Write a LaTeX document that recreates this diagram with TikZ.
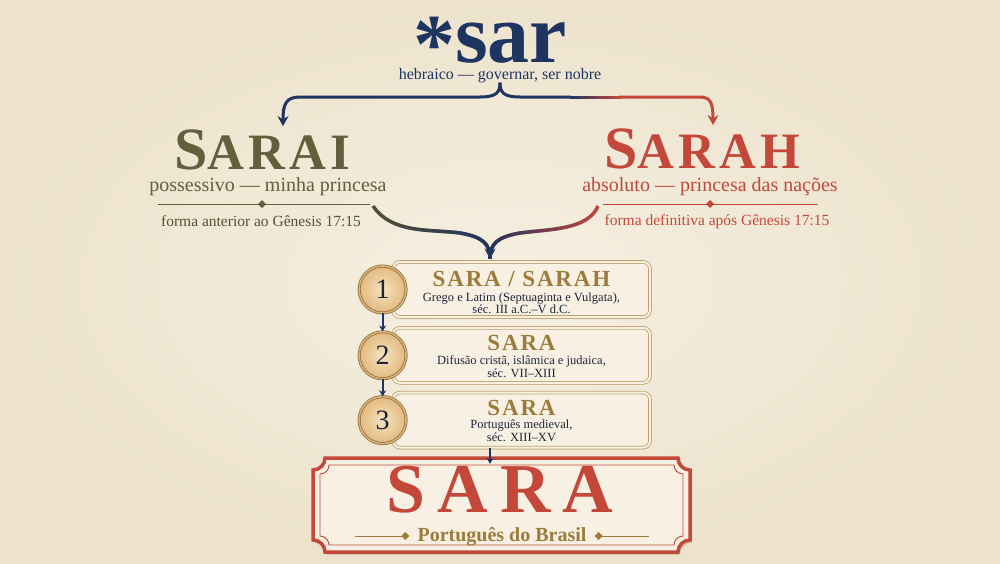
\documentclass[tikz,border=0pt]{standalone}
\usepackage{fontspec}
\setmainfont{Liberation Serif}
\newfontfamily\capsfont[LetterSpace=8]{Liberation Serif}
\newfontfamily\widefont[LetterSpace=17]{Liberation Serif}
\usetikzlibrary{positioning}
\usetikzlibrary{arrows.meta}
\usetikzlibrary{shadows}
\usetikzlibrary{fadings}

\definecolor{parch}{HTML}{F6F0E2}
\definecolor{parchdark}{HTML}{EDE3CD}
\definecolor{navy}{HTML}{1E3461}
\definecolor{olive}{HTML}{645E3D}
\definecolor{rust}{HTML}{C4483A}
\definecolor{gold}{HTML}{9C7B3C}
\definecolor{ink}{HTML}{1D2536}
\definecolor{cream}{HTML}{F8F1E3}
\definecolor{rim}{HTML}{BFA26A}
\definecolor{coin}{HTML}{E2B97E}
\definecolor{coinlight}{HTML}{F6E3C0}
\definecolor{coinrim}{HTML}{8E6C3A}

% small diamond on a rule
\newcommand\gem[1]{\fill (#1) +(0,4) -- +(4,0) -- +(0,-4) -- +(-4,0) -- cycle;}
% frame with notched corners: x1, ytop, x2, ybottom, r
\newcommand\ticket[5]{(#1+#5,#2) -- (#3-#5,#2) arc[start angle=180,end angle=270,radius=#5] -- (#3,#4+#5) arc[start angle=90,end angle=180,radius=#5] -- (#1+#5,#4) arc[start angle=0,end angle=90,radius=#5] -- (#1,#2-#5) arc[start angle=270,end angle=360,radius=#5] -- cycle}

\begin{document}
\begin{tikzpicture}[x=1pt, y=1pt, >={Stealth[length=10pt,width=11pt]}]
    \tikzstyle{word}=[inner sep=0pt, anchor=base]
    \tikzstyle{gloss}=[inner sep=0pt, anchor=base, font=\fontsize{20}{20}\selectfont]
    \tikzstyle{note}=[inner sep=0pt, anchor=base, font=\fontsize{15.5}{15.5}\selectfont]
    \tikzstyle{stepbox}=[draw=rim, double=cream, double distance=2pt, line width=0.8pt, fill=cream, rounded corners=7pt, minimum width=257pt, minimum height=55pt, drop shadow={opacity=0.15, shadow xshift=1pt, shadow yshift=-2pt}]
    \tikzstyle{coin}=[circle, minimum size=47pt, inner sep=0pt, draw=coinrim, double=coin!70!rim, double distance=1.6pt, line width=0.7pt, inner color=coinlight, outer color=coin, text=ink, font=\fontsize{28}{28}\selectfont]
    \tikzstyle{stitle}=[inner sep=0pt, anchor=base, text=gold, font=\capsfont\bfseries\fontsize{23}{23}\selectfont]
    \tikzstyle{sdesc}=[inner sep=0pt, anchor=base, align=center, text=ink, font=\fontsize{12.5}{12.5}\selectfont]
    \tikzstyle{flow}=[line width=3.5pt]
    \tikzstyle{hop}=[draw=navy, line width=1.8pt, -{Stealth[length=6pt,width=7pt]}]

    \useasboundingbox (0,0) rectangle (1000,-563);
    \fill[inner color=parch, outer color=parchdark] (0,0) rectangle (1000,-563);

    % root
    \node[word, text=navy, font=\bfseries\fontsize{84}{84}\selectfont] (sar) at (490,-62) {\raisebox{-10pt}{*}sar};
    \node[word, text=navy, font=\fontsize{16}{16}\selectfont] (hebr) at (500,-79) {hebraico — governar, ser nobre};

    % the two forms
    \node[word, text=olive, font=\capsfont\bfseries] (sarai) at (262,-169) {\fontsize{60}{60}\selectfont S\fontsize{51}{51}\selectfont ARAI};
    \node[gloss, text=olive] (sarai-g) at (268,-191) {possessivo — minha princesa};
    \node[note, text=olive!85!black] (sarai-n) at (261,-226) {forma anterior ao Gênesis 17:15};
    \node[word, text=rust, font=\capsfont\bfseries] (sarah) at (702,-168) {\fontsize{60}{60}\selectfont S\fontsize{51}{51}\selectfont ARAH};
    \node[gloss, text=rust] (sarah-g) at (710,-191) {absoluto — princesa das nações};
    \node[note, text=rust] (sarah-n) at (717,-225) {forma definitiva após Gênesis 17:15};

    \draw[olive, line width=0.8pt] (158,-204) -- (370,-204);
    \begin{scope}[olive] \gem{262,-204} \end{scope}
    \draw[rust, line width=0.8pt] (603,-204) -- (818,-204);
    \begin{scope}[rust] \gem{710,-204} \end{scope}
    \coordinate (lend) at (373,-206);
    \coordinate (rend) at (598,-206);

    % brace
    \draw[navy, line width=3pt, ->] (hebr.south) .. controls (500,-92) and (497,-97) .. (480,-97) -- (300,-97) .. controls (286,-97) and (283,-104) .. ([shift={(21,3)}]sarai.north);
    \draw[navy, line width=3pt] (hebr.south) .. controls (500,-92) and (503,-97) .. (520,-97) -- (571,-97);
    \foreach \i [evaluate=\i as \p using 95-10*\i] in {0,...,9}
      \draw[navy!\p!rust, line width=3pt] (570+5*\i,-97) -- (576+5*\i,-97);
    \draw[rust, line width=3pt, ->] (619,-97) -- (700,-97) .. controls (711,-97) and (713,-104) .. ([shift={(11,3)}]sarah.north);

    % steps
    \node[stepbox] (s1) at (521.5,-289.5) {};
    \node[stepbox, below=10pt of s1] (s2) {};
    \node[stepbox, below=9pt of s2] (s3) {};
    \node[coin] (c1) at ([xshift=-10pt]s1.west) {1};
    \node[coin] (c2) at ([xshift=-10pt]s2.west) {2};
    \node[coin] (c3) at ([xshift=-10pt]s3.west) {3};
    \node[stitle] (t1) at ([yshift=-25pt]s1.north) {SARA / SARAH};
    \node[sdesc] (d1) at ([yshift=-52pt]s1.north) {Grego e Latim (Septuaginta e Vulgata),\\séc. III a.C.–V d.C.};
    \node[stitle] (t2) at ([yshift=-23pt]s2.north) {SARA};
    \node[sdesc] (d2) at ([yshift=-50pt]s2.north) {Difusão cristã, islâmica e judaica,\\séc. VII–XIII};
    \node[stitle] (t3) at ([yshift=-23pt]s3.north) {SARA};
    \node[sdesc] (d3) at ([yshift=-49pt]s3.north) {Português medieval,\\séc. XIII–XV};
    \draw[hop] (c1) -- (c2);
    \draw[hop] (c2) -- (c3);

    % merging curves
    \coordinate (mrg) at ([shift={(-31.5,3)}]s1.north);
    \draw[olive!85!black, flow] (lend) .. controls (392,-234) and (430,-229) .. (460,-233) .. controls (483,-237) and (490,-244) .. (mrg);
    \draw[rust, flow] (rend) .. controls (588,-230) and (550,-229) .. (520,-233) .. controls (497,-237) and (490,-244) .. (mrg);
    \draw[navy, flow, path fading=east] (rend) .. controls (588,-230) and (550,-229) .. (520,-233) .. controls (497,-237) and (490,-244) .. (mrg);
    \draw[navy, flow, path fading=west] (lend) .. controls (392,-234) and (430,-229) .. (460,-233) .. controls (483,-237) and (490,-244) .. (mrg);
    \draw[navy, flow, ->] ([yshift=8pt]mrg) -- (mrg);

    % final form
    \node[minimum width=377pt, minimum height=94pt, inner sep=0pt] (fin) at (501.5,-505) {};
    \fill[black, opacity=0.12] \ticket{315}{-461}{692}{-555}{12};
    \filldraw[fill=cream, draw=rust, line width=3.5pt] \ticket{313}{-458}{690}{-552}{12};
    \draw[rust, line width=0.9pt] \ticket{320}{-465}{683}{-545}{9};
    \node[word, text=rust, font=\widefont\bfseries\fontsize{70}{70}\selectfont] (fsara) at (500,-512) {SARA};
    \node[word, text=gold, font=\bfseries\fontsize{20}{20}\selectfont] (fpt) at (502,-541) {Português do Brasil};
    \draw[gold, line width=0.8pt] ([xshift=-62pt,yshift=5pt]fpt.base west) -- ([xshift=-12pt,yshift=5pt]fpt.base west);
    \draw[gold, line width=0.8pt] ([xshift=12pt,yshift=5pt]fpt.base east) -- ([xshift=62pt,yshift=5pt]fpt.base east);
    \begin{scope}[gold] \gem{[xshift=-12pt,yshift=5pt]fpt.base west} \gem{[xshift=12pt,yshift=5pt]fpt.base east} \end{scope}
    \draw[hop] (s3.south -| mrg) -- ([yshift=-6pt]fin.north -| mrg);
\end{tikzpicture}
\end{document}
